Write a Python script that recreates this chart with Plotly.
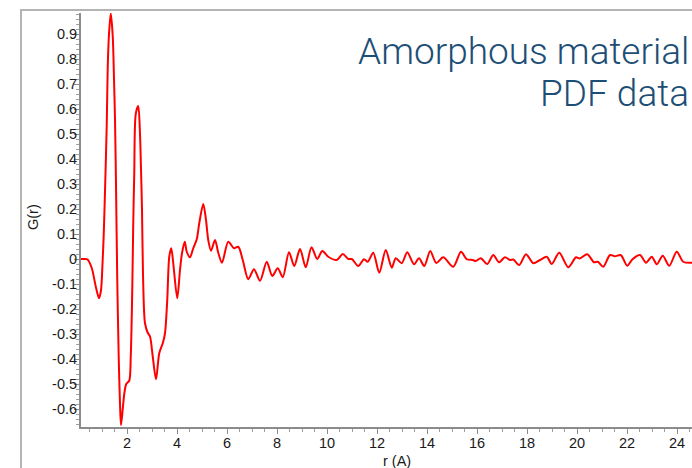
import plotly.graph_objects as go

r_vals = [0.16, 0.30, 0.42, 0.59, 0.75, 0.88, 0.96, 1.02, 1.07, 1.12, 1.19, 1.23, 1.28, 1.35, 1.43, 1.48,
          1.52, 1.56, 1.61, 1.67, 1.72, 1.76, 1.83, 1.89, 1.97, 2.09, 2.15, 2.21, 2.25, 2.29, 2.35, 2.45,
          2.52, 2.56, 2.60, 2.64, 2.72, 2.83, 2.92, 3.03, 3.16, 3.29, 3.43, 3.52, 3.61, 3.69, 3.77, 3.85,
          4.01, 4.12, 4.20, 4.31, 4.39, 4.52, 4.65, 4.79, 4.89, 5.05, 5.16, 5.25, 5.36, 5.52, 5.65, 5.80,
          6.05, 6.28, 6.45, 6.63, 6.85, 7.08, 7.32, 7.59, 7.81, 8.03, 8.23, 8.48, 8.69, 8.92, 9.15, 9.38,
          9.61, 9.81, 10.05, 10.39, 10.63, 10.85, 10.99, 11.25, 11.48, 11.63, 11.85, 12.09, 12.35, 12.59,
          12.75, 12.99, 13.21, 13.48, 13.68, 13.89, 14.13, 14.37, 14.65, 15.05, 15.36, 15.59, 15.83, 15.95,
          16.15, 16.41, 16.65, 16.88, 17.12, 17.32, 17.45, 17.69, 17.96, 18.25, 18.52, 18.79, 18.99, 19.29,
          19.65, 19.96, 20.11, 20.41, 20.68, 20.83, 21.05, 21.32, 21.52, 21.75, 22.01, 22.21, 22.52, 22.76,
          22.99, 23.19, 23.43, 23.69, 23.99, 24.25, 24.6]
g_vals = [0.0, 0.0, -0.002, -0.036, -0.11, -0.157, -0.125, -0.02, 0.10, 0.27, 0.54, 0.77, 0.90, 0.983, 0.89, 0.72,
          0.56, 0.30, -0.08, -0.40, -0.58, -0.665, -0.60, -0.54, -0.50, -0.487, -0.39, -0.124, 0.143, 0.34, 0.58, 0.612,
          0.50, 0.36, 0.20, -0.06, -0.257, -0.295, -0.31, -0.39, -0.481, -0.377, -0.337, -0.297, -0.164, 0.009, 0.043, -0.017,
          -0.157, -0.044, 0.023, 0.069, 0.029, 0.007, 0.043, 0.079, 0.143, 0.22, 0.156, 0.076, 0.033, 0.076, 0.025, -0.015,
          0.069, 0.043, 0.049, -0.004, -0.081, -0.041, -0.087, -0.011, -0.068, -0.037, -0.073, 0.027, -0.028, 0.040, -0.033, 0.047,
          0.0, 0.032, 0.009, -0.004, 0.020, 0.0, 0.0, -0.028, -0.001, -0.011, 0.025, -0.055, 0.036, -0.035,
          0.003, -0.017, 0.027, -0.021, 0.003, -0.028, 0.032, -0.016, 0.007, -0.031, 0.029, -0.001, -0.004, -0.008,
          0.003, -0.02, 0.016, -0.013, 0.007, -0.004, -0.002, -0.024, 0.019, -0.017, -0.004, 0.009, -0.020, 0.025,
          -0.033, 0.007, 0.002, 0.019, -0.013, -0.011, -0.031, 0.016, 0.011, 0.016, -0.027, -0.002, 0.016, -0.015,
          0.009, -0.021, 0.013, -0.027, 0.029, -0.011, -0.015]

x_ticks = [2, 4, 6, 8, 10, 12, 14, 16, 18, 20, 22, 24]
x_ticktext = ["2", "4", "6", "8", "10", "12", "14", "16", "18", "20", "22", "24"]
y_ticks = [0.9, 0.8, 0.7, 0.6, 0.5, 0.4, 0.3, 0.2, 0.1, 0.0, -0.1, -0.2, -0.3, -0.4, -0.5, -0.6]
y_ticktext = ["0.9", "0.8", "0.7", "0.6", "0.5", "0.4", "0.3", "0.2", "0.1", "0",
              "-0.1", "-0.2", "-0.3", "-0.4", "-0.5", "-0.6"]

title_line1 = "Amorphous material"
title_line2 = "PDF data"
x_title = "r (A)"
y_title = "G(r)"

W, H = 692, 468
L, R, T, B = 81, 0, 13, 41
pw, ph = W - L - R, H - T - B

def px(x):
    return (x - L) / pw

def py(y):
    return (H - B - y) / ph

fig = go.Figure()
fig.add_trace(go.Scatter(x=r_vals, y=g_vals, mode="lines",
                         line=dict(color="#ff0000", width=2, shape="spline", smoothing=0.8),
                         hoverinfo="skip", showlegend=False))

tickfont = dict(family="Liberation Sans, Arial, sans-serif", size=14.5, color="#1a1a1a")
axis_common = dict(showgrid=False, zeroline=False, showline=True, linecolor="#8c8c8c", linewidth=2,
                   ticks="outside", tickcolor="#8c8c8c", ticklen=5, tickwidth=1, tickfont=tickfont)

fig.update_layout(
    width=W, height=H,
    margin=dict(l=L, r=R, t=T, b=B, pad=0),
    paper_bgcolor="white", plot_bgcolor="white",
    xaxis=dict(range=[0.16, 24.6], tickmode="array", tickvals=x_ticks, ticktext=x_ticktext,
               minor=dict(tickmode="linear", tick0=0, dtick=0.5, ticks="outside", ticklen=3,
                          tickcolor="#a0a0a0", tickwidth=1),
               ticklabelstandoff=-3,
               **axis_common),
    yaxis=dict(range=[-0.672, 0.984], tickmode="array", tickvals=y_ticks, ticktext=y_ticktext,
               minor=dict(tickmode="linear", tick0=0, dtick=0.02, ticks="outside", ticklen=3,
                          tickcolor="#a0a0a0", tickwidth=1),
               ticklabelstandoff=-6,
               **axis_common),
    shapes=[
        dict(type="line", xref="paper", yref="paper", x0=px(20), x1=px(692), y0=py(10), y1=py(10),
             line=dict(color="#b4b4b4", width=2), layer="above"),
        dict(type="line", xref="paper", yref="paper", x0=px(21), x1=px(21), y0=py(10), y1=py(468),
             line=dict(color="#b4b4b4", width=2), layer="above"),
    ],
    annotations=[
        dict(text=title_line1, xref="paper", yref="paper", x=px(691), y=py(66), xanchor="right",
             yanchor="bottom", showarrow=False, yshift=-9,
             font=dict(family="Roboto", size=37, color="#1d4e75", weight=300)),
        dict(text=title_line2, xref="paper", yref="paper", x=px(691), y=py(108), xanchor="right",
             yanchor="bottom", showarrow=False, yshift=-9,
             font=dict(family="Roboto", size=37, color="#1d4e75", weight=300)),
        dict(text=x_title, xref="paper", yref="paper", x=px(397), y=py(461), xanchor="center",
             yanchor="middle", showarrow=False,
             font=dict(family="Liberation Sans, Arial, sans-serif", size=14.5, color="#1a1a1a")),
        dict(text=y_title, xref="paper", yref="paper", x=px(33), y=py(217), xanchor="center",
             yanchor="middle", showarrow=False, textangle=-90,
             font=dict(family="Liberation Sans, Arial, sans-serif", size=14.5, color="#1a1a1a")),
    ],
)

fig.write_html("out.html")
